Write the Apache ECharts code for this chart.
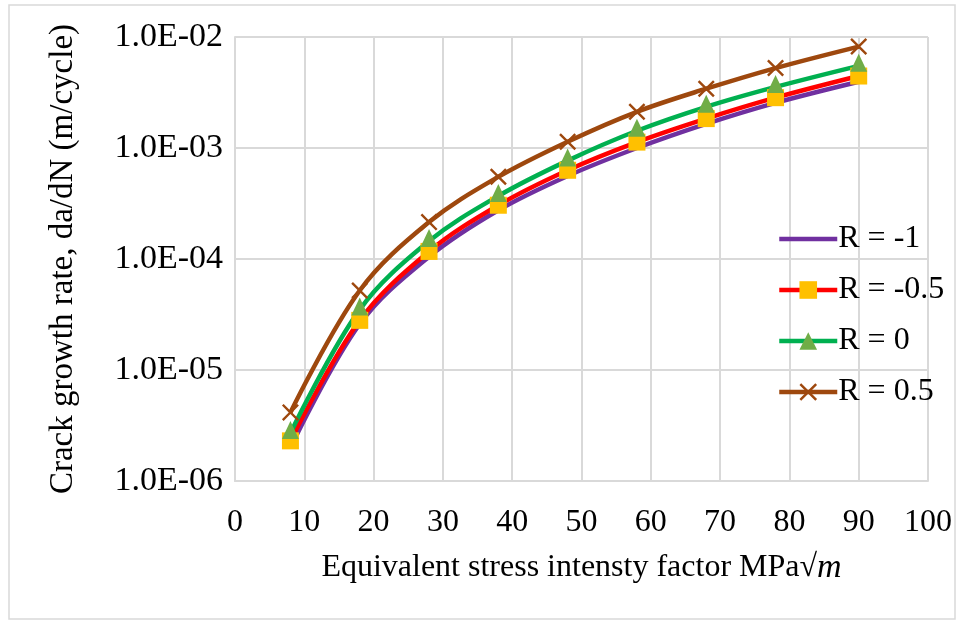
<!DOCTYPE html>
<html>
<head>
<meta charset="utf-8">
<script src="https://cdn.jsdelivr.net/npm/echarts@6/dist/echarts.min.js"></script>
<style>
    html, body { margin: 0; padding: 0; background: #fff; }
    #main { width: 961px; height: 628px; }
</style>
</head>
<body>
<div id="main"></div>
<script>
// stress intensity factor range (x)
var deltaK = [8, 18, 28, 38, 48, 58, 68, 78, 90];

// crack growth rate da/dN (m/cycle) for each stress ratio
var rMinus1 = [2.0e-6, 2.6e-5, 1.05e-4, 2.75e-4, 5.6e-4, 1.0e-3, 1.65e-3, 2.55e-3, 3.95e-3];
var rMinus05 = [2.3e-6, 2.8e-5, 1.17e-4, 3.05e-4, 6.3e-4, 1.13e-3, 1.84e-3, 2.84e-3, 4.45e-3];
var rZero = [2.7e-6, 3.5e-5, 1.45e-4, 3.7e-4, 7.7e-4, 1.43e-3, 2.35e-3, 3.55e-3, 5.5e-3];
var rPlus05 = [4.15e-6, 5.2e-5, 2.15e-4, 5.5e-4, 1.14e-3, 2.12e-3, 3.42e-3, 5.25e-3, 8.2e-3];

var seriesNames = ['R = -1', 'R = -0.5', 'R = 0', 'R = 0.5'];

var FONT = '"Liberation Serif", "Times New Roman", serif';
var GRID_COLOR = '#d9d9d9';
var CROSS = 'path://M0,1L1,0L5,4L9,0L10,1L6,5L10,9L9,10L5,6L1,10L0,9L4,5Z';

function pairs(ys) {
    return deltaK.map(function (x, i) { return [x, ys[i]]; });
}

function sciLabel(v) {
    var e = Math.round(Math.log10(v));
    var m = v / Math.pow(10, e);
    var sign = e < 0 ? '-' : '+';
    var a = Math.abs(e);
    return m.toFixed(1) + 'E' + sign + (a < 10 ? '0' + a : a);
}

var chartDom = document.getElementById('main');
var myChart = echarts.init(chartDom);
var option;

option = {
    backgroundColor: '#fff',
    animation: false,
    textStyle: { fontFamily: FONT },
    graphic: [
        {
            type: 'rect',
            shape: { x: 9, y: 5, width: 946, height: 614 },
            style: { fill: 'none', stroke: GRID_COLOR, lineWidth: 1.5 },
            silent: true
        }
    ],
    grid: {
        left: 235,
        top: 37,
        right: 33,
        bottom: 147
    },
    legend: {
        orient: 'vertical',
        left: 772,
        top: 218,
        itemWidth: 58,
        itemHeight: 22,
        itemGap: 19,
        lineStyle: { width: 4.5 },
        data: [
            { name: seriesNames[0], itemStyle: { opacity: 0 } },
            seriesNames[1],
            seriesNames[2],
            seriesNames[3]
        ],
        textStyle: {
            fontFamily: FONT,
            fontSize: 32,
            color: '#000',
            lineHeight: 32,
            padding: [0, 0, 0, -4]
        }
    },
    xAxis: {
        type: 'value',
        min: 0,
        max: 100,
        interval: 10,
        name: 'Equivalent stress intensty factor MPa√{i|m}',
        nameLocation: 'middle',
        nameGap: 70,
        nameTextStyle: {
            fontFamily: FONT,
            fontSize: 32,
            color: '#000',
            rich: {
                i: { fontFamily: FONT, fontSize: 34, fontStyle: 'italic', color: '#000' }
            }
        },
        axisLine: { show: true, lineStyle: { color: GRID_COLOR, width: 2 } },
        axisTick: { show: false },
        axisLabel: { fontFamily: FONT, fontSize: 32, color: '#000', margin: 26 },
        splitLine: { show: true, lineStyle: { color: GRID_COLOR, width: 2 } }
    },
    yAxis: {
        type: 'log',
        logBase: 10,
        min: 1e-6,
        max: 1e-2,
        name: 'Crack growth rate, da/dN (m/cycle)',
        nameLocation: 'middle',
        nameGap: 155,
        nameTextStyle: { fontFamily: FONT, fontSize: 33, color: '#000' },
        axisLine: { show: true, lineStyle: { color: GRID_COLOR, width: 2 } },
        axisTick: { show: false },
        axisLabel: {
            fontFamily: FONT,
            fontSize: 34,
            color: '#000',
            margin: 12,
            formatter: sciLabel
        },
        splitLine: { show: true, lineStyle: { color: GRID_COLOR, width: 2 } }
    },
    series: [
        {
            name: seriesNames[0],
            type: 'line',
            data: pairs(rMinus1),
            smooth: 0.35,
            symbol: 'none',
            lineStyle: { color: '#7030A0', width: 4.5 },
            itemStyle: { color: '#7030A0' }
        },
        {
            name: seriesNames[1],
            type: 'line',
            data: pairs(rMinus05),
            smooth: 0.35,
            symbol: 'rect',
            symbolSize: 17,
            lineStyle: { color: '#FF0000', width: 4.5 },
            itemStyle: { color: '#FFC000', borderWidth: 0 }
        },
        {
            name: seriesNames[2],
            type: 'line',
            data: pairs(rZero),
            smooth: 0.35,
            symbol: 'triangle',
            symbolSize: [17, 18],
            symbolOffset: [0, -3],
            lineStyle: { color: '#00B050', width: 4.5 },
            itemStyle: { color: '#70AD47', borderWidth: 0 }
        },
        {
            name: seriesNames[3],
            type: 'line',
            data: pairs(rPlus05),
            smooth: 0.35,
            symbol: CROSS,
            symbolSize: 17,
            lineStyle: { color: '#9E480E', width: 4.5 },
            itemStyle: { color: '#9E480E', borderWidth: 0 }
        }
    ]
};

option && myChart.setOption(option);
</script>
</body>
</html>
